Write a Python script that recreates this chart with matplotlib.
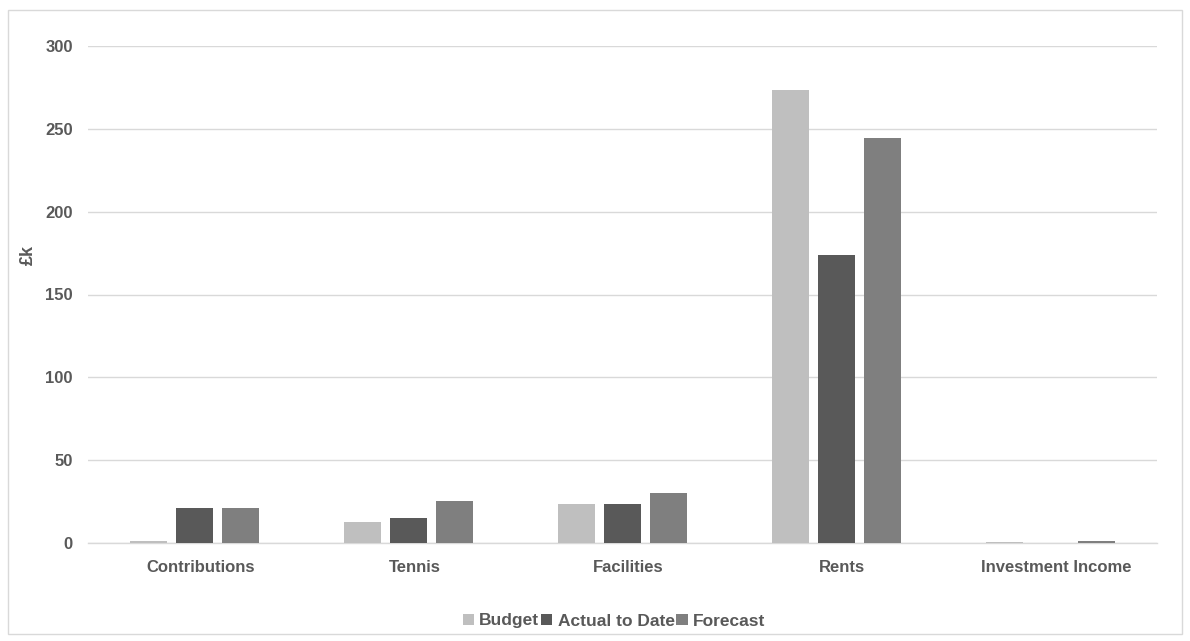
import matplotlib
matplotlib.use("Agg")
import matplotlib.pyplot as plt
import matplotlib.transforms as mtransforms
from matplotlib.patches import Rectangle
import numpy as np

categories = ["Contributions", "Tennis", "Facilities", "Rents", "Investment Income"]
budget = [1.0, 12.7, 23.3, 273.4, 0.6]
actual = [21.0, 15.0, 23.3, 173.8, 0.0]
forecast = [21.0, 25.3, 30.0, 244.4, 1.0]
series_names = ["Budget", "Actual to Date", "Forecast"]
colors = ["#bfbfbf", "#595959", "#7f7f7f"]
yticks = [0, 50, 100, 150, 200, 250, 300]

plt.rcParams['font.family'] = ['Liberation Sans', 'DejaVu Sans']
txt = "#595959"

fig = plt.figure(figsize=(11.9, 6.41), dpi=100)
ax = fig.add_axes([88/1190, 1-543/641, (1157-88)/1190, (543-46)/641])

x = np.arange(len(categories))
w = 0.173
step = 0.215
for i, (vals, name, c) in enumerate(zip([budget, actual, forecast], series_names, colors)):
    ax.bar(x + (i-1)*step, vals, w, color=c, label=name, zorder=3)

ax.set_xlim(-0.5, len(categories)-0.5)
ax.set_ylim(0, 300)
ax.set_yticks(yticks)
ax.set_xticks(x)
ax.set_xticklabels(categories)
ax.grid(axis='y', color='#d9d9d9', linewidth=1, zorder=0)
for s in ['top', 'right', 'left']:
    ax.spines[s].set_visible(False)
ax.spines['bottom'].set_color('#d9d9d9')
ax.spines['bottom'].set_linewidth(1)
ax.tick_params(axis='both', length=0, colors=txt, labelsize=12)
ax.tick_params(axis='y', pad=11)
ax.tick_params(axis='x', pad=12)
offset = mtransforms.ScaledTranslation(6/100, 0, fig.dpi_scale_trans)
for lab in ax.get_xticklabels():
    lab.set_transform(lab.get_transform() + offset)
for lab in ax.get_xticklabels() + ax.get_yticklabels():
    lab.set_fontweight('bold')
    lab.set_color(txt)
fig.text(28/1190, 1-255/641, "£k", rotation=90, ha='center', va='center',
         fontsize=13, fontweight='bold', color=txt)

leg = fig.legend(loc='center', bbox_to_anchor=(614/1190, 1-621/641), ncol=3, frameon=False,
                 prop={'weight': 'bold', 'size': 12.5}, handlelength=0.65, handleheight=0.65,
                 handletextpad=0.3, columnspacing=0.1)
for t in leg.get_texts():
    t.set_color(txt)

fig.patches.append(Rectangle((8/1190, 1-634/641), (1182-8)/1190, (634-10)/641,
                             transform=fig.transFigure, fill=False, edgecolor='#d9d9d9', linewidth=1))

fig.savefig("out.png", dpi=100)
